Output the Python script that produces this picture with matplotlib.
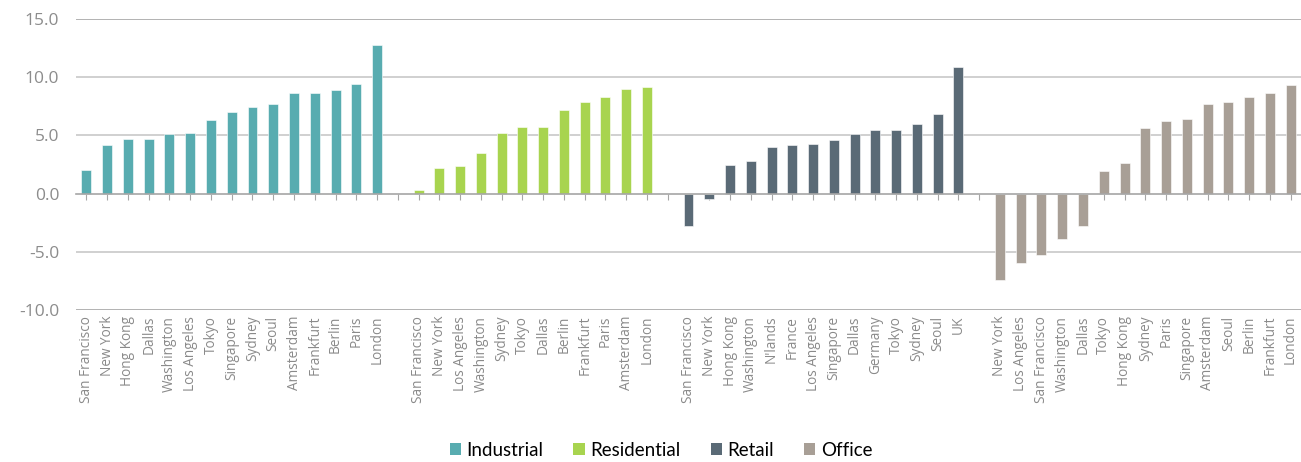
import numpy as np
import matplotlib
matplotlib.use('Agg')
import matplotlib.pyplot as plt
from matplotlib.patches import Patch

# data ----
industrial_cities = ['San Francisco', 'New York', 'Hong Kong', 'Dallas', 'Washington', 'Los Angeles',
                     'Tokyo', 'Singapore', 'Sydney', 'Seoul', 'Amsterdam', 'Frankfurt', 'Berlin',
                     'Paris', 'London']
industrial_vals = [2.0, 4.2, 4.7, 4.7, 5.1, 5.2, 6.3, 7.0, 7.4, 7.7, 8.6, 8.6, 8.9, 9.4, 12.8]

residential_cities = ['San Francisco', 'New York', 'Los Angeles', 'Washington', 'Sydney', 'Tokyo',
                      'Dallas', 'Berlin', 'Frankfurt', 'Paris', 'Amsterdam', 'London']
residential_vals = [0.3, 2.2, 2.4, 3.5, 5.2, 5.7, 5.7, 7.2, 7.9, 8.3, 9.0, 9.2]

retail_cities = ['San Francisco', 'New York', 'Hong Kong', 'Washington', "N'lands", 'France',
                 'Los Angeles', 'Singapore', 'Dallas', 'Germany', 'Tokyo', 'Sydney', 'Seoul', 'UK']
retail_vals = [-2.8, -0.5, 2.5, 2.8, 4.0, 4.2, 4.3, 4.6, 5.1, 5.5, 5.5, 6.0, 6.8, 10.9]

office_cities = ['New York', 'Los Angeles', 'San Francisco', 'Washington', 'Dallas', 'Tokyo',
                 'Hong Kong', 'Sydney', 'Paris', 'Singapore', 'Amsterdam', 'Seoul', 'Berlin',
                 'Frankfurt', 'London']
office_vals = [-7.4, -6.0, -5.3, -3.9, -2.8, 1.9, 2.6, 5.6, 6.2, 6.4, 7.7, 7.9, 8.3, 8.6, 9.3]

series = [('Industrial', industrial_cities, industrial_vals, '#58acb0'),
          ('Residential', residential_cities, residential_vals, '#a8d44f'),
          ('Retail', retail_cities, retail_vals, '#5a6a76'),
          ('Office', office_cities, office_vals, '#a89f96')]

fig = plt.figure(figsize=(13.01, 4.62), dpi=100)
ax = fig.add_axes([76/1301, 1-310/462, 1-76/1301, (310-19)/462])

# place groups one after another with one empty category between them
tick_pos, tick_lab = [], []
start = 0
for name, cities, vals, col in series:
    x = np.arange(start, start + len(cities))
    ax.bar(x, vals, width=0.48, color=col, edgecolor='white', linewidth=0.4, zorder=3)
    tick_pos += list(x)
    tick_lab += cities
    start += len(cities)
    if name != 'Office':
        tick_pos.append(start)
        tick_lab.append('')
        start += 1

ax.set_xlim(-0.5, start - 0.5)
ax.set_ylim(-10, 15)
yt = np.arange(-10, 15.1, 5)
ax.set_yticks(yt)
ax.set_yticklabels(['%.1f' % v for v in yt])
ax.set_xticks(tick_pos)

for v in [-5, 5, 10]:
    ax.axhline(v, color='#c8c8c8', linewidth=1.2, zorder=1)
for v in [-10, 15]:
    ax.axhline(v, color='#a6a6a6', linewidth=1.2, zorder=1)

for s in ax.spines.values():
    s.set_visible(False)
ax.tick_params(axis='y', length=0, pad=12, labelsize=12.5, labelcolor='#8c8c8c')
ax.tick_params(axis='x', length=4, width=0.8, color='#a6a6a6', direction='out', labelbottom=False)
for lab in ax.get_yticklabels():
    lab.set_family(['Open Sans', 'DejaVu Sans'])
# ticks hang from the zero line
ax.spines['bottom'].set_position(('data', 0))
ax.spines['bottom'].set_visible(True)
ax.spines['bottom'].set_color('#a6a6a6')
ax.spines['bottom'].set_linewidth(1.2)
ax.spines['bottom'].set_zorder(4)
# category labels sit under the plot area
for x, lab in zip(tick_pos, tick_lab):
    ax.text(x, -10.5, lab, rotation=90, ha='center', va='top', fontsize=9.8, color='#8a8a8a',
            family=['Open Sans', 'DejaVu Sans'])

handles = [Patch(facecolor=c, edgecolor='none', label=n) for n, _, _, c in series]
fig.legend(handles=handles, loc='center', bbox_to_anchor=(661/1301, 1-450/462), ncol=4, frameon=False,
           prop={'family': ['Liberation Sans Narrow', 'Lato', 'DejaVu Sans'], 'size': 13.5},
           handlelength=0.6, handleheight=0.6, handletextpad=0.3, columnspacing=1.6)

fig.savefig('out.png', dpi=100)
